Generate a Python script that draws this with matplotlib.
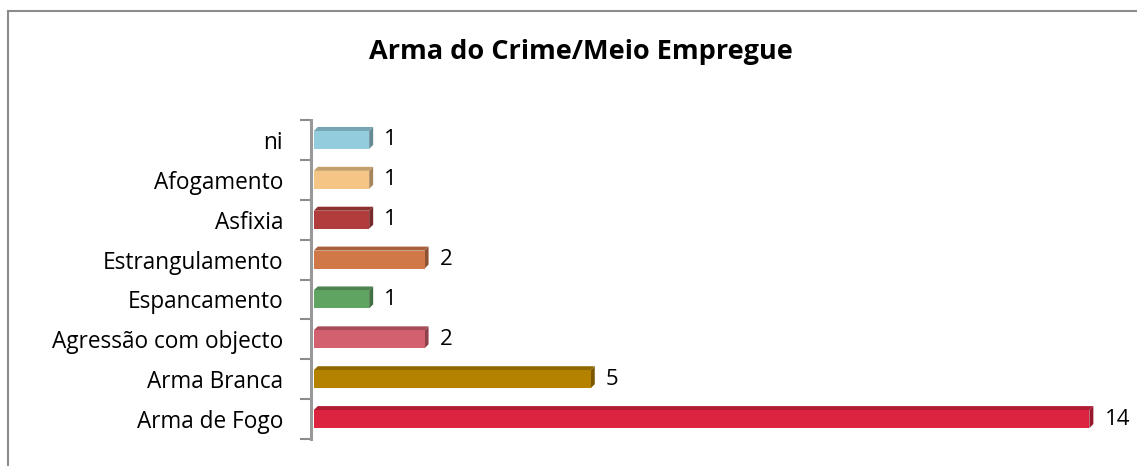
import matplotlib.pyplot as plt
from matplotlib.patches import Polygon
from matplotlib.lines import Line2D

plt.rcParams['font.family'] = ['Open Sans', 'DejaVu Sans']

# data, bottom to top
categories = ['Arma de Fogo', 'Arma Branca', 'Agressão com objecto', 'Espancamento',
              'Estrangulamento', 'Asfixia', 'Afogamento', 'ni']
values = [14, 5, 2, 1, 2, 1, 1, 1]

front_colors = ['#DC2440', '#B58200', '#D2606E', '#60A462',
                '#D07848', '#B03C3C', '#F5C586', '#93CDDD']


def darker(c, f):
    c = c.lstrip('#')
    r, g, b = [int(c[i:i + 2], 16) for i in (0, 2, 4)]
    return (r * f / 255, g * f / 255, b * f / 255)


W, H = 1137, 466
fig = plt.figure(figsize=(W / 100, H / 100), dpi=100)

# chart frame (only top/left visible in the reference)
fig.add_artist(Line2D([8 / W, 8 / W], [0, 1 - 11 / H], color='#8C8C8C', lw=1.5))
fig.add_artist(Line2D([8 / W, 1], [1 - 11 / H, 1 - 11 / H], color='#8C8C8C', lw=1.5))

ax_left, ax_top, ax_bot = 311, 120, 439
xmax = 14.5
ax_w = 55.4 * xmax
ax = fig.add_axes([ax_left / W, (H - ax_bot) / H, ax_w / W, (ax_bot - ax_top) / H])

h = 0.45
dx = 4 / 55.4
dy = 4 / ((ax_bot - ax_top) / 8)
y = list(range(len(categories)))

ax.barh(y, values, height=h, left=0.05, color=front_colors, edgecolor='none', zorder=3)
for yi, v, c in zip(y, values, front_colors):
    x0, x1 = 0.05, 0.05 + v
    yt, yb = yi + h / 2, yi - h / 2
    top = Polygon([(x0, yt), (x0 + dx, yt + dy), (x1 + dx, yt + dy), (x1, yt)],
                  closed=True, facecolor=darker(c, 0.8), edgecolor='none', zorder=2)
    side = Polygon([(x1, yb), (x1, yt), (x1 + dx, yt + dy), (x1 + dx, yb + dy)],
                   closed=True, facecolor=darker(c, 0.68), edgecolor='none', zorder=2)
    ax.add_patch(top)
    ax.add_patch(side)
    ax.text(x1 + dx + 0.2, yi, str(v), va='center', ha='left', fontsize=16, color='black')

ax.set_xlim(0, xmax)
ax.set_ylim(-0.5, len(categories) - 0.5)
ax.set_yticks(y)
ax.set_yticklabels(categories, fontsize=16.3)
ax.set_yticks([i - 0.5 for i in range(len(categories) + 1)], minor=True)
ax.tick_params(axis='y', which='major', length=0, pad=20)
ax.tick_params(axis='y', which='minor', length=8, width=1.5, color='#8C8C8C')
ax.set_xticks([])
for s in ['top', 'right', 'bottom']:
    ax.spines[s].set_visible(False)
ax.spines['left'].set_color('#999999')
ax.spines['left'].set_linewidth(2.2)
ax.patch.set_alpha(0)

fig.text(581 / W, 1 - 52 / H, 'Arma do Crime/Meio Empregue', ha='center', va='center',
         fontsize=19.5, fontweight='bold')

fig.savefig('out.png', dpi=100)
